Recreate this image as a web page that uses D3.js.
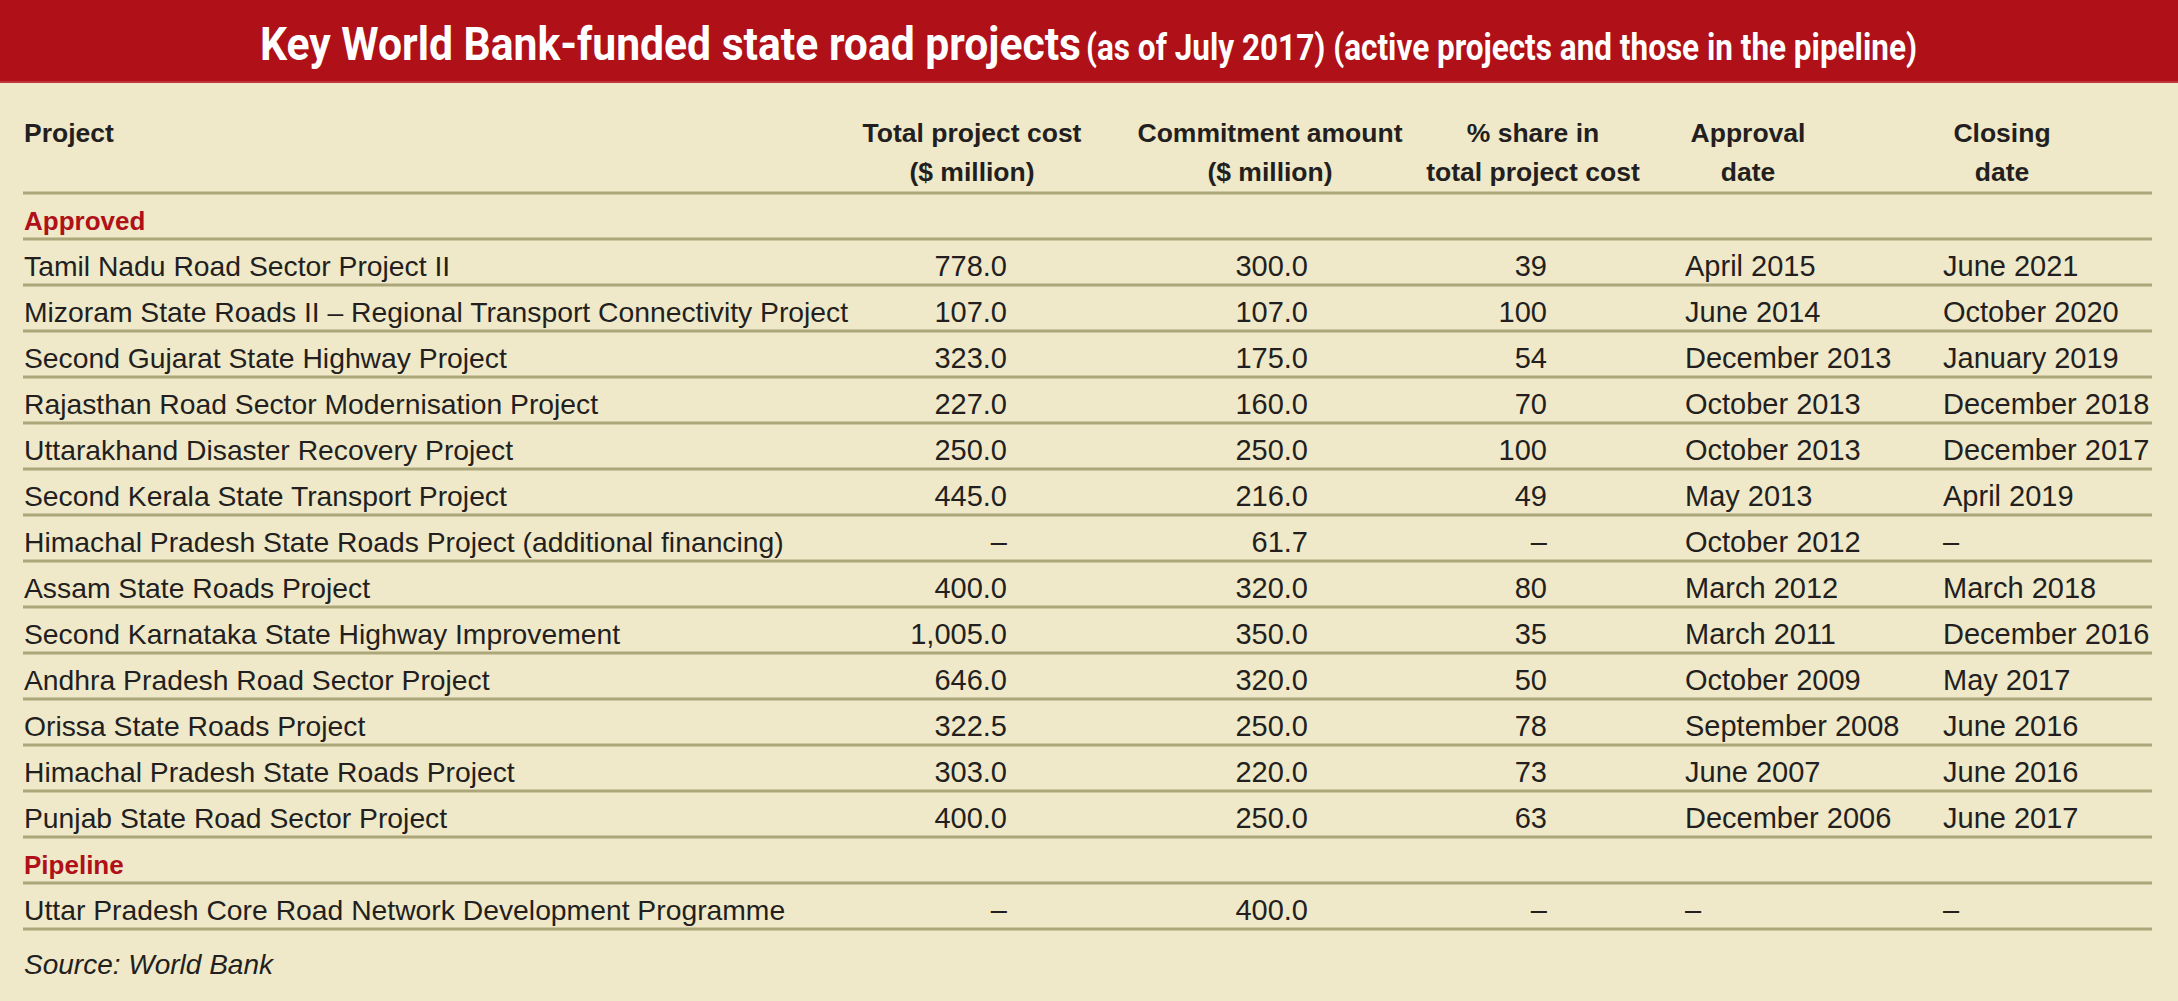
<!DOCTYPE html>
<html lang="en">
<head>
<meta charset="UTF-8">
<title>Key World Bank-funded state road projects</title>
<script src="https://d3js.org/d3.v7.min.js"></script>
<style>
    body { margin: 0; background: #efe9c9; }
    svg { display: block; }
    .title { font-family: Roboto, "DejaVu Sans", sans-serif; font-weight: bold; fill: #fff; }
    .head { font-family: "Liberation Sans", Arial, sans-serif; font-weight: bold; font-size: 26.5px; fill: #231f20; }
    .section { font-family: "Liberation Sans", Arial, sans-serif; font-weight: bold; font-size: 26px; fill: #b01018; }
    .name { font-family: "Liberation Sans", Arial, sans-serif; font-size: 28.3px; fill: #231f20; }
    .cell { font-family: "Liberation Sans", Arial, sans-serif; font-size: 29px; fill: #231f20; }
    .source { font-family: "Liberation Sans", Arial, sans-serif; font-style: italic; font-size: 28px; fill: #231f20; }
</style>
</head>
<body>
<svg id="chart" width="2178" height="1001"></svg>
<script>
// ---- data ----
const titleMain = "Key World Bank-funded state road projects";
const titleSub = "(as of July 2017) (active projects and those in the pipeline)";

const columnHeads = [
    ["Project"],
    ["Total project cost", "($ million)"],
    ["Commitment amount", "($ million)"],
    ["% share in", "total project cost"],
    ["Approval", "date"],
    ["Closing", "date"]
];

const sections = ["Approved", "Pipeline"];

const approvedProjects = [
    "Tamil Nadu Road Sector Project II",
    "Mizoram State Roads II – Regional Transport Connectivity Project",
    "Second Gujarat State Highway Project",
    "Rajasthan Road Sector Modernisation Project",
    "Uttarakhand Disaster Recovery Project",
    "Second Kerala State Transport Project",
    "Himachal Pradesh State Roads Project (additional financing)",
    "Assam State Roads Project",
    "Second Karnataka State Highway Improvement",
    "Andhra Pradesh Road Sector Project",
    "Orissa State Roads Project",
    "Himachal Pradesh State Roads Project",
    "Punjab State Road Sector Project"
];
const approvedTotalCost = [778.0, 107.0, 323.0, 227.0, 250.0, 445.0, null, 400.0, 1005.0, 646.0, 322.5, 303.0, 400.0];
const approvedCommitment = [300.0, 107.0, 175.0, 160.0, 250.0, 216.0, 61.7, 320.0, 350.0, 320.0, 250.0, 220.0, 250.0];
const approvedShare = [39, 100, 54, 70, 100, 49, null, 80, 35, 50, 78, 73, 63];
const approvedApproval = ["April 2015", "June 2014", "December 2013", "October 2013", "October 2013", "May 2013",
    "October 2012", "March 2012", "March 2011", "October 2009", "September 2008", "June 2007", "December 2006"];
const approvedClosing = ["June 2021", "October 2020", "January 2019", "December 2018", "December 2017", "April 2019",
    null, "March 2018", "December 2016", "May 2017", "June 2016", "June 2016", "June 2017"];

const pipelineProjects = ["Uttar Pradesh Core Road Network Development Programme"];
const pipelineTotalCost = [null];
const pipelineCommitment = [400.0];
const pipelineShare = [null];
const pipelineApproval = [null];
const pipelineClosing = [null];

const sourceText = "Source: World Bank";

// ---- layout ----
const W = 2178, H = 1001;
const svg = d3.select("#chart");
const dash = "–";
const fmtCost = d3.format(",.1f");

function buildRows(names, total, commit, share, appr, close) {
    return names.map((n, i) => ({
        type: "row",
        cells: [
            n,
            total[i] == null ? dash : fmtCost(total[i]),
            commit[i] == null ? dash : fmtCost(commit[i]),
            share[i] == null ? dash : String(share[i]),
            appr[i] == null ? dash : appr[i],
            close[i] == null ? dash : close[i]
        ]
    }));
}

const rows = [
    { type: "section", label: sections[0] },
    ...buildRows(approvedProjects, approvedTotalCost, approvedCommitment, approvedShare, approvedApproval, approvedClosing),
    { type: "section", label: sections[1] },
    ...buildRows(pipelineProjects, pipelineTotalCost, pipelineCommitment, pipelineShare, pipelineApproval, pipelineClosing)
];

// row lines: header rule + one rule under every row
const y = d3.scaleLinear().domain([0, rows.length]).range([193, 929]);

// column anchors
const cols = [
    { x: 24, anchor: "start", headX: 24, headAnchor: "start" },
    { x: 1007, anchor: "end", headX: 972, headAnchor: "middle" },
    { x: 1308, anchor: "end", headX: 1270, headAnchor: "middle" },
    { x: 1547, anchor: "end", headX: 1533, headAnchor: "middle" },
    { x: 1685, anchor: "start", headX: 1748, headAnchor: "middle" },
    { x: 1943, anchor: "start", headX: 2002, headAnchor: "middle" }
];

// background
svg.append("rect").attr("width", W).attr("height", H).attr("fill", "#efe9c9");

// title band
svg.append("rect").attr("width", W).attr("height", 83).attr("fill", "#b01018");
svg.append("line").attr("x1", 0).attr("x2", W).attr("y1", 82).attr("y2", 82)
    .attr("stroke", "#c8454a").attr("stroke-width", 1.5);

// the original uses a condensed face; squeeze to its measured widths
svg.append("text").attr("class", "title")
    .attr("x", 260).attr("y", 60)
    .attr("font-size", 46)
    .attr("textLength", 821).attr("lengthAdjust", "spacingAndGlyphs")
    .text(titleMain);
svg.append("text").attr("class", "title")
    .attr("x", 1086).attr("y", 60)
    .attr("font-size", 36)
    .attr("textLength", 831).attr("lengthAdjust", "spacingAndGlyphs")
    .text(titleSub);

// column headings
const heads = svg.append("g");
columnHeads.forEach((lines, c) => {
    const t = heads.append("text").attr("class", "head")
        .attr("text-anchor", cols[c].headAnchor);
    lines.forEach((ln, k) => {
        t.append("tspan").attr("x", cols[c].headX).attr("y", 142 + k * 39).text(ln);
    });
});

// rules
svg.append("g").selectAll("line")
    .data(d3.range(0, rows.length + 1))
    .join("line")
    .attr("x1", 23).attr("x2", 2152)
    .attr("y1", d => y(d)).attr("y2", d => y(d))
    .attr("stroke", "#aca77b").attr("stroke-width", 3);

// rows
const rowG = svg.append("g").selectAll("g")
    .data(rows)
    .join("g")
    .attr("transform", (d, i) => `translate(0,${y(i) + 36.5})`);

rowG.filter(d => d.type === "section")
    .append("text").attr("class", "section")
    .attr("x", cols[0].x)
    .text(d => d.label);

rowG.filter(d => d.type === "row")
    .selectAll("text")
    .data(d => d.cells.map((v, c) => ({ v, c })))
    .join("text")
    .attr("class", d => d.c === 0 ? "name" : "cell")
    .attr("x", d => cols[d.c].x)
    .attr("text-anchor", d => cols[d.c].anchor)
    .text(d => d.v);

// source
svg.append("text").attr("class", "source")
    .attr("x", 24).attr("y", 974)
    .text(sourceText);
</script>
</body>
</html>
